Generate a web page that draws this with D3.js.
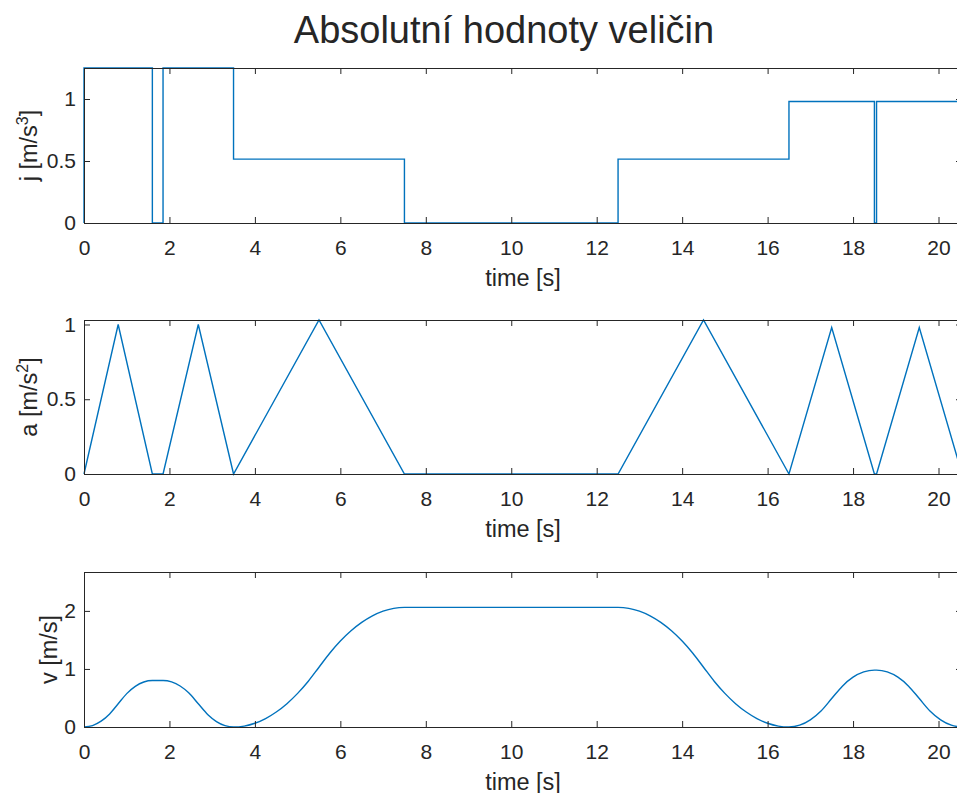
<!DOCTYPE html>
<html>
<head>
<meta charset="utf-8">
<script src="https://d3js.org/d3.v7.min.js"></script>
<style>
    body { margin: 0; background: #fff; }
    text { font-family: "Liberation Sans", Arial, sans-serif; fill: #262626; }
    .axis path, .axis line { stroke: #262626; }
</style>
</head>
<body>
<div id="chart-area"></div>
<script>
// Data (absolute values)
var timeJ  = [0, 0, 1.6, 1.85, 3.5, 7.5, 12.5, 16.5, 18.5, 18.55, 20.55];
var jerk   = [0, 1.25, 0, 1.25, 0.515, 0, 0.515, 0.98, 0, 0.98, 0.98];

var timeA  = [0, 0.8, 1.6, 1.85, 2.675, 3.5, 5.5, 7.5, 12.5, 14.5, 16.5, 17.5, 18.5, 18.55, 19.55, 20.55];
var accel  = [0, 1, 0, 0, 1, 0, 1.03, 0, 0, 1.03, 0, 0.98, 0, 0, 0.98, 0];

var timeV  = [0, 0.2, 0.4, 0.6, 0.8, 1.0, 1.2, 1.4, 1.6, 1.85, 2.05, 2.25, 2.45, 2.675,
              2.9, 3.1, 3.3, 3.5, 3.75, 4, 4.25, 4.5, 4.75, 5, 5.25, 5.5, 5.75, 6, 6.25, 6.5,
              6.75, 7, 7.25, 7.5, 10, 12.5, 12.75, 13, 13.25, 13.5, 13.75, 14, 14.25, 14.5,
              14.75, 15, 15.25, 15.5, 15.75, 16, 16.25, 16.5, 16.75, 17, 17.25, 17.5, 17.75,
              18, 18.25, 18.5, 18.55, 18.8, 19.05, 19.3, 19.55, 19.8, 20.05, 20.3, 20.55];
var veloc  = [0, 0.025, 0.1, 0.225, 0.4, 0.575, 0.7, 0.775, 0.8, 0.8, 0.776, 0.706, 0.588, 0.4,
              0.212, 0.094, 0.024, 0, 0.016, 0.064, 0.145, 0.258, 0.402, 0.579, 0.789, 1.03, 1.271, 1.481, 1.658, 1.802,
              1.915, 1.996, 2.044, 2.06, 2.06, 2.06, 2.044, 1.996, 1.915, 1.802, 1.658, 1.481, 1.271, 1.03,
              0.789, 0.579, 0.402, 0.258, 0.145, 0.064, 0.016, 0, 0.031, 0.123, 0.276, 0.49, 0.704,
              0.858, 0.949, 0.98, 0.98, 0.949, 0.858, 0.704, 0.49, 0.276, 0.123, 0.031, 0];

var xTicks = [0, 2, 4, 6, 8, 10, 12, 14, 16, 18, 20];
var jTicks = [0, 0.5, 1];
var aTicks = [0, 0.5, 1];
var vTicks = [0, 1, 2];

var width = 957, height = 793;
var left = 84, right = 962;

var svg = d3.select("#chart-area")
    .append("svg")
        .attr("width", width)
        .attr("height", height);

// Title
svg.append("text")
    .attr("x", 504)
    .attr("y", 43)
    .attr("font-size", "38px")
    .attr("text-anchor", "middle")
    .text("Absolutní hodnoty veličin");

var x = d3.scaleLinear()
    .domain([0, 20.55])
    .range([left, right]);

function panel(times, values, yMax, yTicks, top, bottom, yLabel, sup, labelX, curve) {
    var y = d3.scaleLinear()
        .domain([0, yMax])
        .range([bottom, top]);

    var g = svg.append("g");

    // line
    var line = d3.line()
        .x(function(d){ return x(d[0]); })
        .y(function(d){ return y(d[1]); })
        .curve(curve);

    g.append("path")
        .datum(d3.zip(times, values))
        .attr("fill", "none")
        .attr("stroke", "#0072BD")
        .attr("stroke-width", 1.4)
        .attr("d", line);

    // box axes, ticks pointing inward
    g.append("g")
        .attr("class", "axis")
        .attr("transform", "translate(0," + bottom + ")")
        .call(d3.axisBottom(x).tickValues(xTicks).tickSizeInner(-6).tickSizeOuter(0).tickPadding(17))
        .attr("font-size", "21px")
        .attr("font-family", null);

    g.append("g")
        .attr("class", "axis")
        .attr("transform", "translate(0," + top + ")")
        .call(d3.axisTop(x).tickValues(xTicks).tickSizeInner(-6).tickSizeOuter(0).tickFormat(""));

    g.append("g")
        .attr("class", "axis")
        .attr("transform", "translate(" + left + ",0)")
        .call(d3.axisLeft(y).tickValues(yTicks).tickSizeInner(-6).tickSizeOuter(0).tickPadding(8).tickFormat(d3.format("~g")))
        .attr("font-size", "21px")
        .attr("font-family", null);

    g.append("g")
        .attr("class", "axis")
        .attr("transform", "translate(" + right + ",0)")
        .call(d3.axisRight(y).tickValues(yTicks).tickSizeInner(-6).tickSizeOuter(0).tickFormat(""));

    g.selectAll(".axis text").attr("fill", "#262626");

    // X label
    g.append("text")
        .attr("x", (left + right) / 2)
        .attr("y", bottom + 63)
        .attr("font-size", "23.5px")
        .attr("text-anchor", "middle")
        .text("time [s]");

    // Y label
    var yl = g.append("text")
        .attr("font-size", "23.5px")
        .attr("text-anchor", "middle")
        .attr("transform", "translate(" + labelX + "," + ((top + bottom) / 2) + ") rotate(-90)");
    yl.append("tspan").text(yLabel);
    if (sup) {
        yl.append("tspan").attr("font-size", "16px").attr("dy", "-9").text(sup);
        yl.append("tspan").attr("dy", "9").text("]");
    }
}

panel(timeJ, jerk, 1.25, jTicks, 68, 223, "j [m/s", "3", 37, d3.curveStepAfter);
panel(timeA, accel, 1.03, aTicks, 320, 474, "a [m/s", "2", 37, d3.curveLinear);
panel(timeV, veloc, 2.67, vTicks, 572, 727, "v [m/s]", null, 57, d3.curveMonotoneX);
</script>
</body>
</html>
